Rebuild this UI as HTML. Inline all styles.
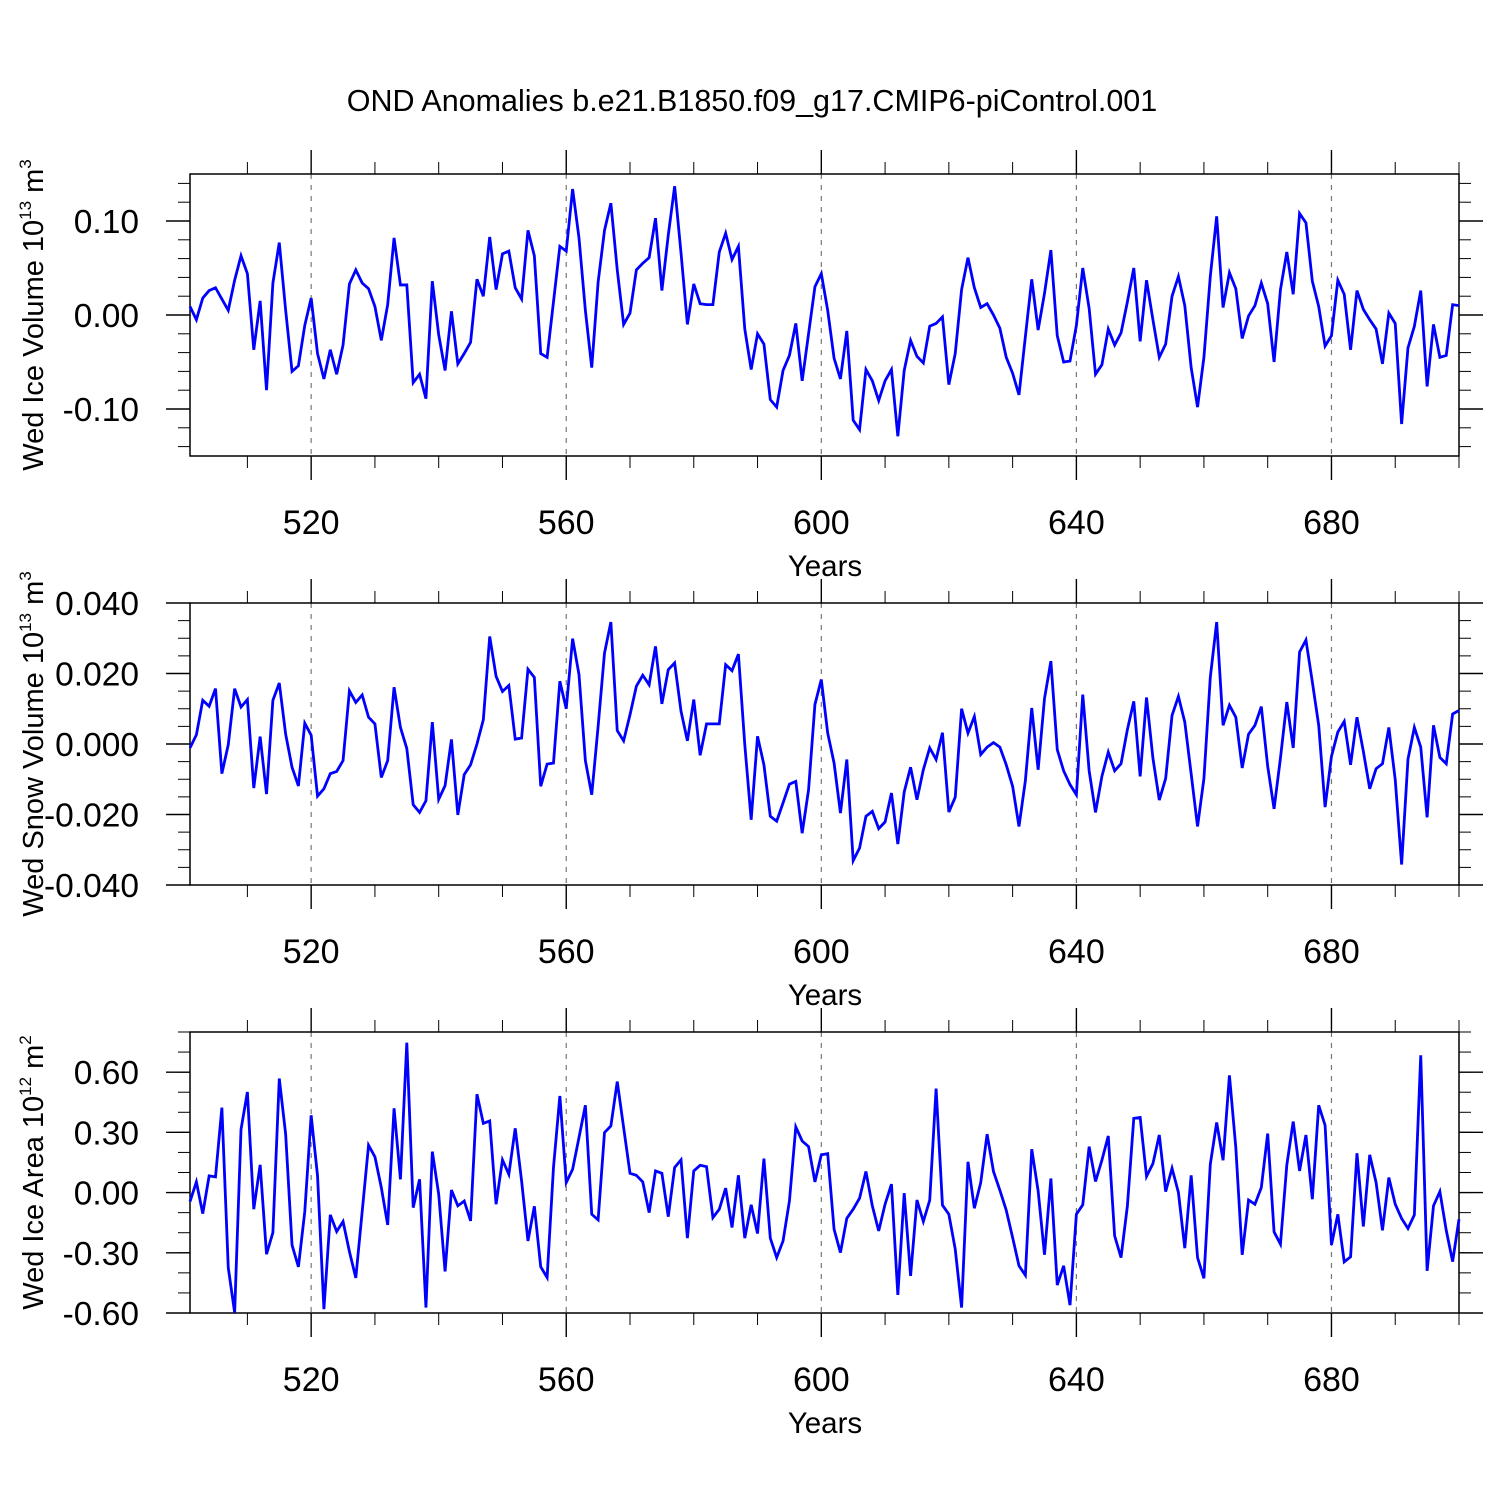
<!DOCTYPE html>
<html><head><meta charset="utf-8"><style>
html,body{margin:0;padding:0;background:#fff;}
svg{display:block;font-family:"Liberation Sans",Arial,sans-serif;}
</style></head><body>
<svg id="chart" width="1500" height="1500" viewBox="0 0 1500 1500" xmlns="http://www.w3.org/2000/svg">
<text x="752" y="111" font-size="30.5" text-anchor="middle">OND Anomalies b.e21.B1850.f09_g17.CMIP6-piControl.001</text>
</svg>
<script>
const years = []; for (let y = 501; y <= 700; y++) years.push(y);
const xTicks = [520, 560, 600, 640, 680];
const iceVolume = [.009,-.005,.018,.026,.029,.017,.005,.037,.063,.044,-.037,.015,-.080,.034,.077,.005,-.060,-.054,-.011,.018,
-.041,-.068,-.037,-.063,-.032,.033,.048,.034,.028,.009,-.027,.011,.082,.032,.032,-.072,-.063,-.089,.036,-.021,
-.059,.004,-.052,-.041,-.029,.038,.020,.083,.027,.065,.068,.029,.017,.090,.063,-.041,-.045,.014,.073,.068,
.134,.082,.005,-.056,.035,.090,.119,.048,-.010,.002,.048,.055,.061,.103,.026,.085,.137,.066,-.010,.033,
.012,.011,.011,.067,.087,.059,.073,-.015,-.058,-.020,-.031,-.090,-.098,-.059,-.043,-.009,-.070,-.020,.030,.044,
.005,-.046,-.068,-.017,-.112,-.122,-.058,-.070,-.091,-.070,-.058,-.129,-.059,-.027,-.044,-.051,-.012,-.009,-.002,-.074,
-.041,.027,.061,.029,.008,.012,.000,-.014,-.045,-.062,-.085,-.023,.038,-.016,.023,.069,-.022,-.050,-.049,-.011,
.050,.007,-.063,-.053,-.015,-.032,-.019,.014,.050,-.028,.037,-.005,-.045,-.031,.020,.041,.010,-.056,-.098,-.045,
.041,.105,.008,.045,.028,-.025,-.001,.010,.034,.012,-.050,.027,.067,.022,.108,.098,.036,.009,-.033,-.022,
.037,.022,-.037,.026,.006,-.005,-.015,-.052,.002,-.009,-.116,-.035,-.012,.026,-.076,-.010,-.045,-.043,.011,.010];
const snowVolume = [-.0011,.0026,.0124,.0107,.0157,-.0084,-.0002,.0157,.0105,.0126,-.0125,.0021,-.0142,.0124,.0173,.0028,-.0066,-.0119,.0059,.0025,
-.0148,-.0127,-.0084,-.0078,-.0047,.0151,.0118,.0139,.0076,.0057,-.0095,-.0047,.0161,.0047,-.0013,-.0172,-.0194,-.0161,.0062,-.0157,
-.0118,.0013,-.0201,-.0087,-.0059,.0000,.0069,.0305,.0192,.0149,.0166,.0014,.0017,.0212,.0189,-.0120,-.0057,-.0054,.0178,.0100,
.0299,.0197,-.0047,-.0144,.0050,.0258,.0346,.0038,.0009,.0083,.0164,.0195,.0168,.0277,.0114,.0211,.0230,.0093,.0009,.0126,
-.0032,.0057,.0057,.0057,.0225,.0208,.0255,-.0002,-.0215,.0022,-.0059,-.0205,-.0219,-.0167,-.0114,-.0106,-.0253,-.0130,.0112,.0183,
.0031,-.0054,-.0196,-.0044,-.0331,-.0295,-.0205,-.0191,-.0240,-.0221,-.0139,-.0284,-.0136,-.0066,-.0158,-.0073,-.0011,-.0044,.0032,-.0193,
-.0151,.0100,.0031,.0078,-.0030,-.0009,.0004,-.0009,-.0059,-.0120,-.0234,-.0104,.0102,-.0073,.0129,.0235,-.0016,-.0076,-.0115,-.0144,
.0140,-.0076,-.0194,-.0092,-.0023,-.0076,-.0056,.0041,.0121,-.0092,.0132,-.0040,-.0159,-.0098,.0081,.0135,.0062,-.0085,-.0234,-.0098,
.0189,.0346,.0053,.0110,.0076,-.0068,.0028,.0053,.0106,-.0063,-.0184,-.0040,.0119,-.0011,.0261,.0295,.0176,.0053,-.0179,-.0035,
.0034,.0064,-.0059,.0076,-.0021,-.0127,-.0070,-.0056,.0047,-.0101,-.0342,-.0043,.0047,-.0009,-.0208,.0053,-.0038,-.0056,.0085,.0095];
const iceArea = [-.045,.053,-.105,.083,.078,.423,-.374,-.598,.315,.501,-.083,.138,-.307,-.199,.568,.291,-.261,-.370,-.095,.385,
.083,-.581,-.111,-.194,-.144,-.294,-.425,-.095,.236,.178,.025,-.161,.420,.066,.747,-.075,.066,-.573,.204,-.008,
-.393,.013,-.066,-.042,-.141,.490,.345,.357,-.058,.163,.091,.320,.058,-.241,-.068,-.370,-.423,.125,.481,.050,
.116,.274,.435,-.108,-.136,.299,.332,.553,.324,.096,.086,.053,-.100,.108,.096,-.120,.125,.163,-.227,.108,
.136,.129,-.125,-.083,.022,-.174,.086,-.227,-.061,-.204,.169,-.227,-.324,-.241,-.042,.327,.257,.229,.053,.188,
.194,-.183,-.299,-.128,-.083,-.028,.105,-.066,-.191,-.058,.042,-.510,-.003,-.415,-.037,-.144,-.038,.518,-.063,-.108,
-.282,-.573,.153,-.078,.050,.291,.105,.012,-.088,-.224,-.365,-.412,.216,.008,-.310,.070,-.461,-.365,-.561,-.108,
-.061,.229,.055,.161,.282,-.216,-.324,-.066,.370,.374,.080,.144,.287,.005,.121,.000,-.277,.086,-.324,-.427,
.141,.349,.161,.584,.224,-.310,-.037,-.058,.025,.294,-.196,-.257,.138,.354,.108,.287,-.033,.435,.335,-.261,
-.108,-.345,-.320,.196,-.169,.188,.050,-.188,.075,-.058,-.129,-.179,-.111,.684,-.390,-.066,.005,-.188,-.344,-.133];
const p1Ticks = [-0.10, 0.00, 0.10], p1Labels = ["-0.10","0.00","0.10"];
const p2Ticks = [-0.04,-0.02,0,0.02,0.04], p2Labels = ["-0.040","-0.020","0.000","0.020","0.040"];
const p3Ticks = [-0.6,-0.3,0,0.3,0.6], p3Labels = ["-0.60","-0.30","0.00","0.30","0.60"];

const NS = "http://www.w3.org/2000/svg";
const svg = document.getElementById('chart');
function mk(tag, attrs, parent) {
  const e = document.createElementNS(NS, tag);
  for (const k in attrs) e.setAttribute(k, attrs[k]);
  (parent || svg).appendChild(e);
  return e;
}
const X0 = 190, X1 = 1459;
const xs = v => X0 + (v - 501) / (700 - 501) * (X1 - X0);

const panels = [
  {name:'ice-volume', top:174, bot:456, ymin:-0.15, ymax:0.15, minor:0.02, mmin:-0.14, mmax:0.14, data:iceVolume, ticks:p1Ticks, labels:p1Labels, title:['Wed Ice Volume 10','13',' m','3']},
  {name:'snow-volume', top:603, bot:885, ymin:-0.04, ymax:0.04, minor:0.005, mmin:-0.04, mmax:0.04, data:snowVolume, ticks:p2Ticks, labels:p2Labels, title:['Wed Snow Volume 10','13',' m','3']},
  {name:'ice-area', top:1032, bot:1313, ymin:-0.6, ymax:0.8, minor:0.1, mmin:-0.6, mmax:0.8, data:iceArea, ticks:p3Ticks, labels:p3Labels, title:['Wed Ice Area 10','12',' m','2']}
];

panels.forEach(p => {
  const g = mk('g', {});
  
  
  const ys = v => p.bot - (v - p.ymin) / (p.ymax - p.ymin) * (p.bot - p.top);
  xTicks.forEach(t => {
    const l = mk('line', {x1:xs(t), x2:xs(t), y1:p.top, y2:p.bot, stroke:'#777', 'stroke-width':1.2, 'stroke-dasharray':'5,6'}, g);
    
    
  });
  for (let yr = 510; yr <= 700; yr += 10) {
    const major = (yr - 520) % 40 === 0;
    const len = major ? 24 : 12;
    const x = xs(yr);
    mk('line', {x1:x, x2:x, y1:p.top, y2:p.top - len, stroke:'#000', 'stroke-width': major?1.4:1}, g);
    mk('line', {x1:x, x2:x, y1:p.bot, y2:p.bot + len, stroke:'#000', 'stroke-width': major?1.4:1}, g);
  }
  const nMinor = Math.round((p.mmax - p.mmin) / p.minor);
  for (let i = 0; i <= nMinor; i++) {
    const v = p.mmin + i * p.minor, y = ys(v);
    mk('line', {x1:X0, x2:X0 - 12, y1:y, y2:y, stroke:'#000', 'stroke-width':1}, g);
    mk('line', {x1:X1, x2:X1 + 12, y1:y, y2:y, stroke:'#000', 'stroke-width':1}, g);
  }
  p.ticks.forEach((t, i) => {
    const y = ys(t);
    mk('line', {x1:X0, x2:X0 - 24, y1:y, y2:y, stroke:'#000', 'stroke-width':1.4}, g);
    mk('line', {x1:X1, x2:X1 + 24, y1:y, y2:y, stroke:'#000', 'stroke-width':1.4}, g);
    const tx = mk('text', {x:139, y:y + 12, 'font-size':33.5, 'text-anchor':'end'}, g);
    tx.textContent = p.labels[i];
    
    
  });
  xTicks.forEach(t => {
    const tx = mk('text', {x:xs(t), y:p.bot + 78, 'font-size':34, 'text-anchor':'middle'}, g);
    tx.textContent = t;
    
    
  });
  const xt = mk('text', {x:825, y:p.bot + 120, 'font-size':29.5, 'text-anchor':'middle'}, g);
  xt.textContent = 'Years';
  
  
  const cy = (p.top + p.bot) / 2;
  const yt = mk('text', {x:0, y:0, 'font-size':29, 'text-anchor':'middle', transform:`translate(43,${cy}) rotate(-90)`}, g);
  
  
  const parts = p.title;
  const t1 = mk('tspan', {}, yt); t1.textContent = parts[0];
  const t2 = mk('tspan', {dy:-12, 'font-size':17}, yt); t2.textContent = parts[1];
  const t3 = mk('tspan', {dy:12}, yt); t3.textContent = parts[2];
  const t4 = mk('tspan', {dy:-12, 'font-size':17}, yt); t4.textContent = parts[3];
  const fr = mk('rect', {x:X0, y:p.top, width:X1 - X0, height:p.bot - p.top, fill:'none', stroke:'#000', 'stroke-width':1.5}, g);
  
  
  const pts = p.data.map((v, i) => xs(years[i]).toFixed(2) + ',' + ys(v).toFixed(2)).join(' ');
  const line = mk('polyline', {points:pts, fill:'none', stroke:'#0000ff', 'stroke-width':2.8, 'stroke-linejoin':'miter'}, g);
  
  
});
</script>
</body></html>
